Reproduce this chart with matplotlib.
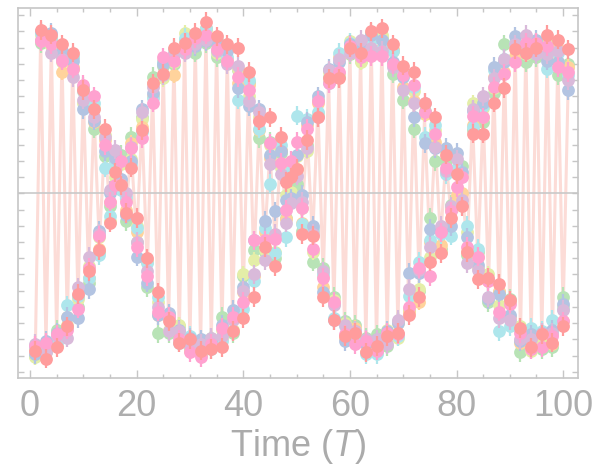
import numpy as np
import matplotlib
matplotlib.use("Agg")
import matplotlib.pyplot as plt
from matplotlib.ticker import MultipleLocator

plt.rcParams["mathtext.fontset"] = "custom"
plt.rcParams["mathtext.it"] = "Liberation Sans:italic"
plt.rcParams["mathtext.rm"] = "Liberation Sans"

# ---------------- data ----------------
time_T = list(range(1, 102))

# cluster centre of the measured points at each time step
center = [-0.96, 0.97, -0.96, 0.94, -0.90, 0.86, -0.79, 0.80, -0.67, 0.60,
          -0.49, 0.50, -0.30, 0.30, -0.10, 0.16, 0.12, -0.08, 0.25, -0.28,
          0.44, -0.47, 0.64, -0.70, 0.77, -0.80, 0.84, -0.88, 0.92, -0.93,
          0.94, -0.96, 0.99, -0.93, 0.91, -0.86, 0.86, -0.80, 0.73, -0.65,
          0.64, -0.45, 0.44, -0.30, 0.26, -0.33, 0.22, -0.10, 0.06, 0.20,
          -0.15, 0.36, -0.30, 0.53, -0.55, 0.72, -0.72, 0.78, -0.85, 0.90,
          -0.88, 0.87, -0.95, 0.93, -0.94, 0.93, -0.90, 0.84, -0.84, 0.70,
          -0.66, 0.60, -0.52, 0.45, -0.35, 0.35, -0.28, 0.22, -0.15, 0.03,
          0.05, -0.30, 0.46, -0.42, 0.50, -0.58, 0.68, -0.65, 0.78, -0.72,
          0.89, -0.88, 0.89, -0.93, 0.90, -0.90, 0.89, -0.90, 0.85, -0.75,
          0.75]

# per-series offsets from the centre (hundredths)
off_green = [-4, -4, -2, 2, 6, -2, -4, 4, -3, 6, -6, -10, -6, -7, 2, 7, 12, -9, 10, -2,
             3, -11, 8, -16, 2, -6, -4, 6, 3, -3, -7, -3, -6, 4, -7, 10, 4, -6, 3, 14,
             5, 10, -10, -6, 6, -7, 3, -5, 10, -14, -8, -6, -12, 5, 9, 0, 8, -6, 6, -4,
             7, -5, 6, 6, 7, 3, -4, -10, 5, -12, -6, -20, -8, 6, 20, -15, -6, -2, 8, -9,
             12, -8, -7, 6, -6, -9, -6, 4, 14, 7, -5, -10, -8, 5, -6, -6, 4, -5, -12, 11,
             5]
off_yellow = [-5, 1, 2, -3, 3, -5, -2, -3, 2, -4, 4, 3, 3, 6, -7, -6, 6, 4, -4, 8,
              2, 6, 4, 3, -6, -4, -3, 7, 7, 2, 4, 4, 2, -2, -4, 2, 3, -4, 4, 15,
              -4, 4, 3, -5, 4, -3, -6, 9, -5, 3, 6, -10, -6, -4, 4, 3, 6, -4, 5, 4,
              -4, -6, 3, -4, 2, 5, 6, 4, -5, 4, -5, 3, -7, 4, -4, 4, -8, 4, 5, -5,
              6, 6, 10, -4, 3, 8, -3, -4, 4, 5, 3, 6, -3, -4, 4, -3, 3, 3, -4, 5,
              3]
off_orange = [0, -2, 3, -1, -4, -11, 3, -2, 4, 3, -3, -6, -4, 3, 5, 3, -5, -2, 6, 4,
              -3, 5, -4, -5, 5, 5, -11, -3, -2, -4, 3, -3, 3, 3, 3, -4, -3, 4, -5, 4,
              3, -6, -5, 6, -4, 7, 5, -6, 6, -5, -3, 6, 7, 3, -3, -3, 4, 6, -4, -3,
              5, 3, -3, 3, -4, -3, 3, 5, 4, -4, -7, -3, -15, 4, 5, -3, -4, 5, 6, -4,
              -5, -6, -4, 3, -3, 4, 4, 5, -3, -4, -4, -4, 4, 3, -3, 3, -4, -3, 4, -4,
              3]
off_cyan = [1, 2, 3, 1, -2, 2, 10, 5, 4, 3, -3, 6, -8, -14, -4, 4, -10, 6, -7, 7,
            -6, 4, -5, 6, 4, 3, 5, -4, 4, 5, 3, 2, 3, -3, 4, -5, -2, 3, -15, -6,
            6, -9, -4, 9, -20, -4, 8, -17, 8, 28, -4, 10, 8, -3, 5, -4, -5, 9, 3, 3,
            -3, 2, -4, 2, -5, -4, 3, 4, -4, 5, 3, 6, 10, -10, 6, 7, 3, -10, -11, 13,
            -12, 10, -5, 8, 4, 5, 8, -20, 5, -10, 4, 4, 3, 10, 3, 5, -12, 12, 2, 4,
            -2]
off_blue = [-3, 3, 5, 5, 4, 2, 3, 2, -10, -8, -10, -5, 7, -4, 10, 6, -3, -5, -5, -11,
            8, -8, -2, -5, 3, 6, 2, 4, -4, 4, -3, 6, -5, 2, 2, 5, 2, 8, -8, 7,
            -10, 16, 8, 13, -2, 22, 4, 6, -9, 4, 14, 8, 10, 7, -6, 5, -6, 3, -6, 2,
            3, 4, 2, 5, 4, 2, 5, -3, 4, 2, 17, -13, 3, -14, 13, -7, 5, 6, -5, 22,
            8, 3, 5, -2, 6, -7, 10, 3, 3, -3, 8, -3, -2, 6, 5, 4, -7, 6, -4, 7,
            -11]
off_lavender = [3, -2, -2, -7, 2, -3, -10, -8, 9, -2, 10, -3, 5, 5, 12, 11, -6, 8, 4, -2,
                6, -1, 2, 0, -4, -5, 3, 3, -5, -1, -2, 3, -4, 4, -3, -2, -6, 2, 6, 5,
                -7, -5, 6, -11, -8, 8, -10, -8, -12, -9, 10, -8, 5, -6, 7, 4, 3, 5, 4, -3,
                3, 8, 5, -3, 4, -5, -3, -6, 6, -6, 7, -4, 5, 11, 2, -6, 8, -8, 7, 18,
                -9, -13, 6, -5, 10, -6, 3, -12, 5, -6, 3, -2, 9, 3, -4, 4, -3, 4, 3, 3,
                -5]
off_pink = [2, -3, 4, -2, 3, -4, -5, -3, -4, 7, 3, 10, 4, 0, 5, -11, 8, 3, 3, -5,
            -10, -4, -8, -3, 7, 4, -2, -2, -3, -5, 2, -5, -1, 0, -2, 3, -4, 4, -1, -2,
            0, 16, 1, 1, 5, 5, -3, 0, 14, 12, 6, 4, -4, 4, 3, -4, 5, -3, -2, 1,
            -5, -3, 4, -8, -3, -8, 4, -4, -3, 3, -4, 7, 6, 5, -16, 2, 4, -6, 4, 1,
            5, -3, 2, 3, -3, 4, -2, -8, -4, 4, -8, 2, 4, -3, 3, -5, 2, 2, -7, -4,
            0]
off_salmon = [-1, 4, -6, 4, -5, 6, -3, 7, 5, 4, 1, 2, -5, 10, -8, -3, -7, -4, -9, 13,
              -5, 7, 4, 9, -3, 1, 6, -4, 1, 3, 5, -1, 7, -3, 6, -9, 6, -5, 17, -12,
              11, -19, 1, -3, 21, -12, 13, 17, 4, -5, -10, -3, 4, -6, -9, -1, -6, -7, -3, 0,
              2, 0, -3, 7, 0, 9, 2, 8, -2, 9, -9, 15, -12, 11, -7, 12, -9, 2, 0, 9,
              -13, -6, -9, -11, -13, 6, -12, 9, -13, 6, 0, 5, -2, -2, 0, 3, 9, -2, 10, -7,
              14]

series_offsets = [off_green, off_yellow, off_orange, off_cyan,
                  off_blue, off_lavender, off_pink, off_salmon]
series_colors = ["#B8E3B6", "#E4EEA8", "#FFD39C", "#AEE6EC",
                 "#B3C4E2", "#D9BADA", "#FFA2D0", "#FF9C9C"]
err_bar = [0.06, 0.05, 0.05, 0.06, 0.06, 0.06, 0.06, 0.06]

x_major_ticks = [0, 20, 40, 60, 80, 100]

# ---------------- figure ----------------
fig = plt.figure(figsize=(6.0, 4.73), dpi=100)
ax = fig.add_axes([0.030, 0.2008, 0.933, 0.7823])

t = np.array(time_T)
cen = np.array(center)
values = [cen + np.array(o) / 100.0 for o in series_offsets]
mean_curve = np.mean(values, axis=0)

# light guide line through the averaged points
ax.plot(t, mean_curve, color="#FCDCD7", lw=2.2, zorder=1)
ax.axhline(0, color="#C9C9C9", lw=1.2, zorder=1.5)

for k, (v, c) in enumerate(zip(values, series_colors)):
    ax.errorbar(t, v, yerr=err_bar[k], fmt="o", ms=9.2, color=c, mec=c, mew=0,
                ecolor=c, elinewidth=1.6, capsize=0, zorder=2 + k)

ax.set_xlim(-2.25, 102.75)
ax.set_ylim(-1.139, 1.145)

ax.xaxis.set_major_locator(plt.FixedLocator(x_major_ticks))
ax.xaxis.set_minor_locator(MultipleLocator(5))
ax.yaxis.set_major_locator(MultipleLocator(0.1))

spine_c = "#C6C6C6"
for s in ax.spines.values():
    s.set_color(spine_c)
    s.set_linewidth(1.2)

lab_font = ["Liberation Sans", "DejaVu Sans"]
ax.tick_params(axis="both", which="both", direction="in", top=True, right=True,
               color=spine_c, width=1.0)
ax.tick_params(axis="x", which="major", length=6, pad=8, labelsize=26,
               labelcolor="#AEAEAE", labelfontfamily=lab_font)
ax.tick_params(axis="x", which="minor", length=3)
ax.tick_params(axis="y", which="major", length=4.5, labelleft=False)

ax.set_xlabel(r"Time ($T$)", fontsize=26, color="#ABABAB",
              family=lab_font, labelpad=2)

fig.savefig("out.png", dpi=100)
